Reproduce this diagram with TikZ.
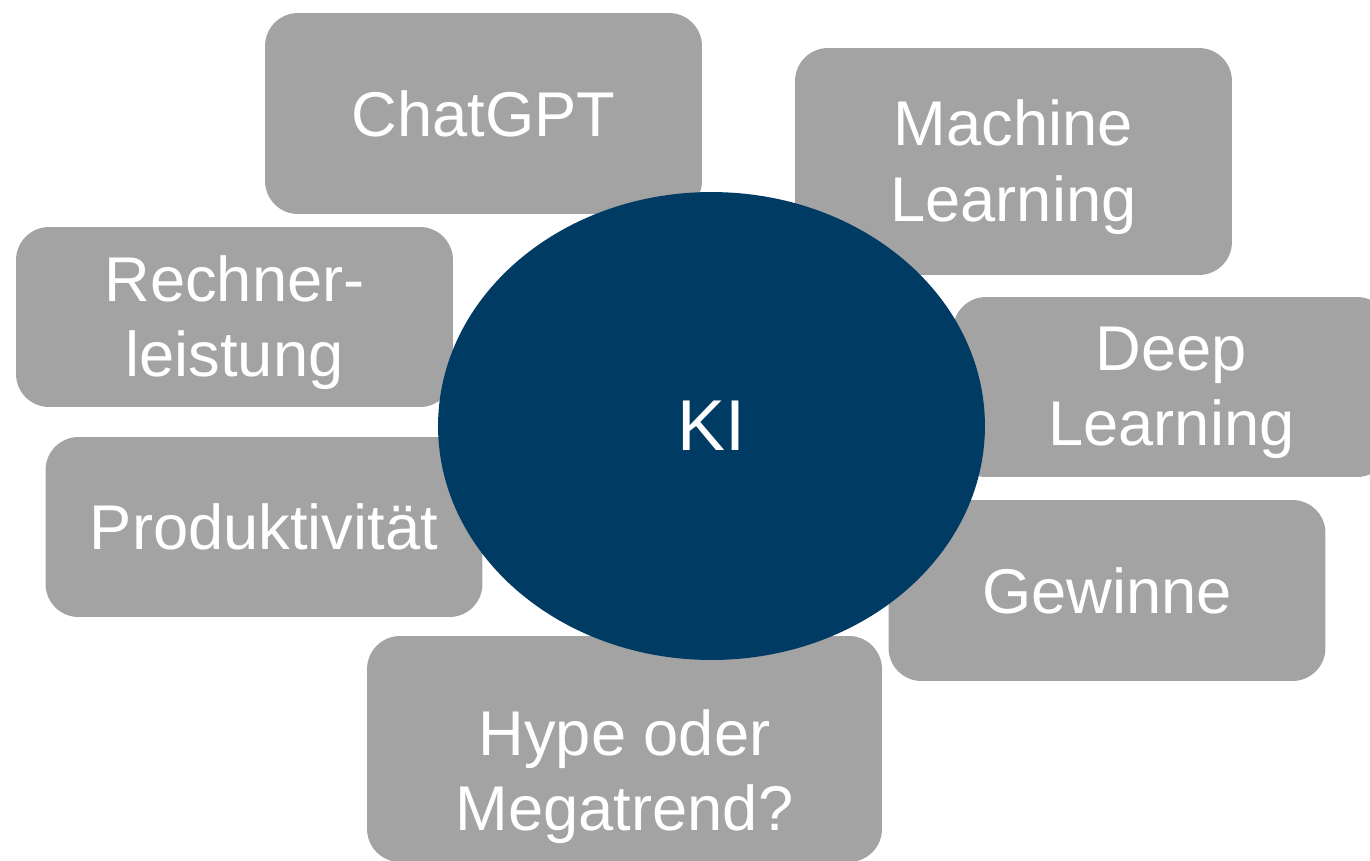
\documentclass[tikz,border=0pt]{standalone}
\usepackage{fontspec}
\setmainfont{Liberation Sans}
\definecolor{kigray}{HTML}{A3A3A3}
\definecolor{kinavy}{HTML}{003B63}
\tikzset{
	topic/.style={fill=kigray, rounded corners=0.66cm, text=white, align=center,
		font=\fontsize{36}{43}\selectfont, inner sep=0pt, minimum width=8.74cm},
	twoline/.style={topic, text depth=1pt},
	core/.style={ellipse, fill=kinavy, text=white, font=\fontsize{41}{48}\selectfont,
		minimum width=10.94cm, minimum height=9.36cm, inner sep=0pt}
}
\usetikzlibrary{shapes.geometric}
\begin{document}
\begin{tikzpicture}[x=0.02cm, y=-0.02cm]
		\useasboundingbox (0,0) rectangle (1370,860);
		% Topics
		\node[topic, minimum height=4.02cm] (chatgpt) at (483.5,113.5) {ChatGPT};
		\node[twoline, minimum height=4.54cm] (ml) at (1013.5,161.5) {Machine\\Learning};
		\node[twoline, minimum height=3.6cm] (rechner) at (234.5,317) {Rechner-\\leistung};
		\node[twoline, minimum height=3.6cm] (deep) at (1171.5,387) {Deep\\Learning};
		\node[topic, minimum height=3.6cm] (produkt) at (264,527) {Produktivität};
		\node[topic, minimum height=3.62cm] (gewinne) at (1107,590.5) {Gewinne};
		\node[twoline, text height=94pt, minimum width=10.3cm, minimum height=4.52cm] (hype) at (624.5,749) {Hype oder\\Megatrend?};
		% Centre
		\node[core] (ki) at (711.5,426) {KI};
	\end{tikzpicture}
\end{document}
